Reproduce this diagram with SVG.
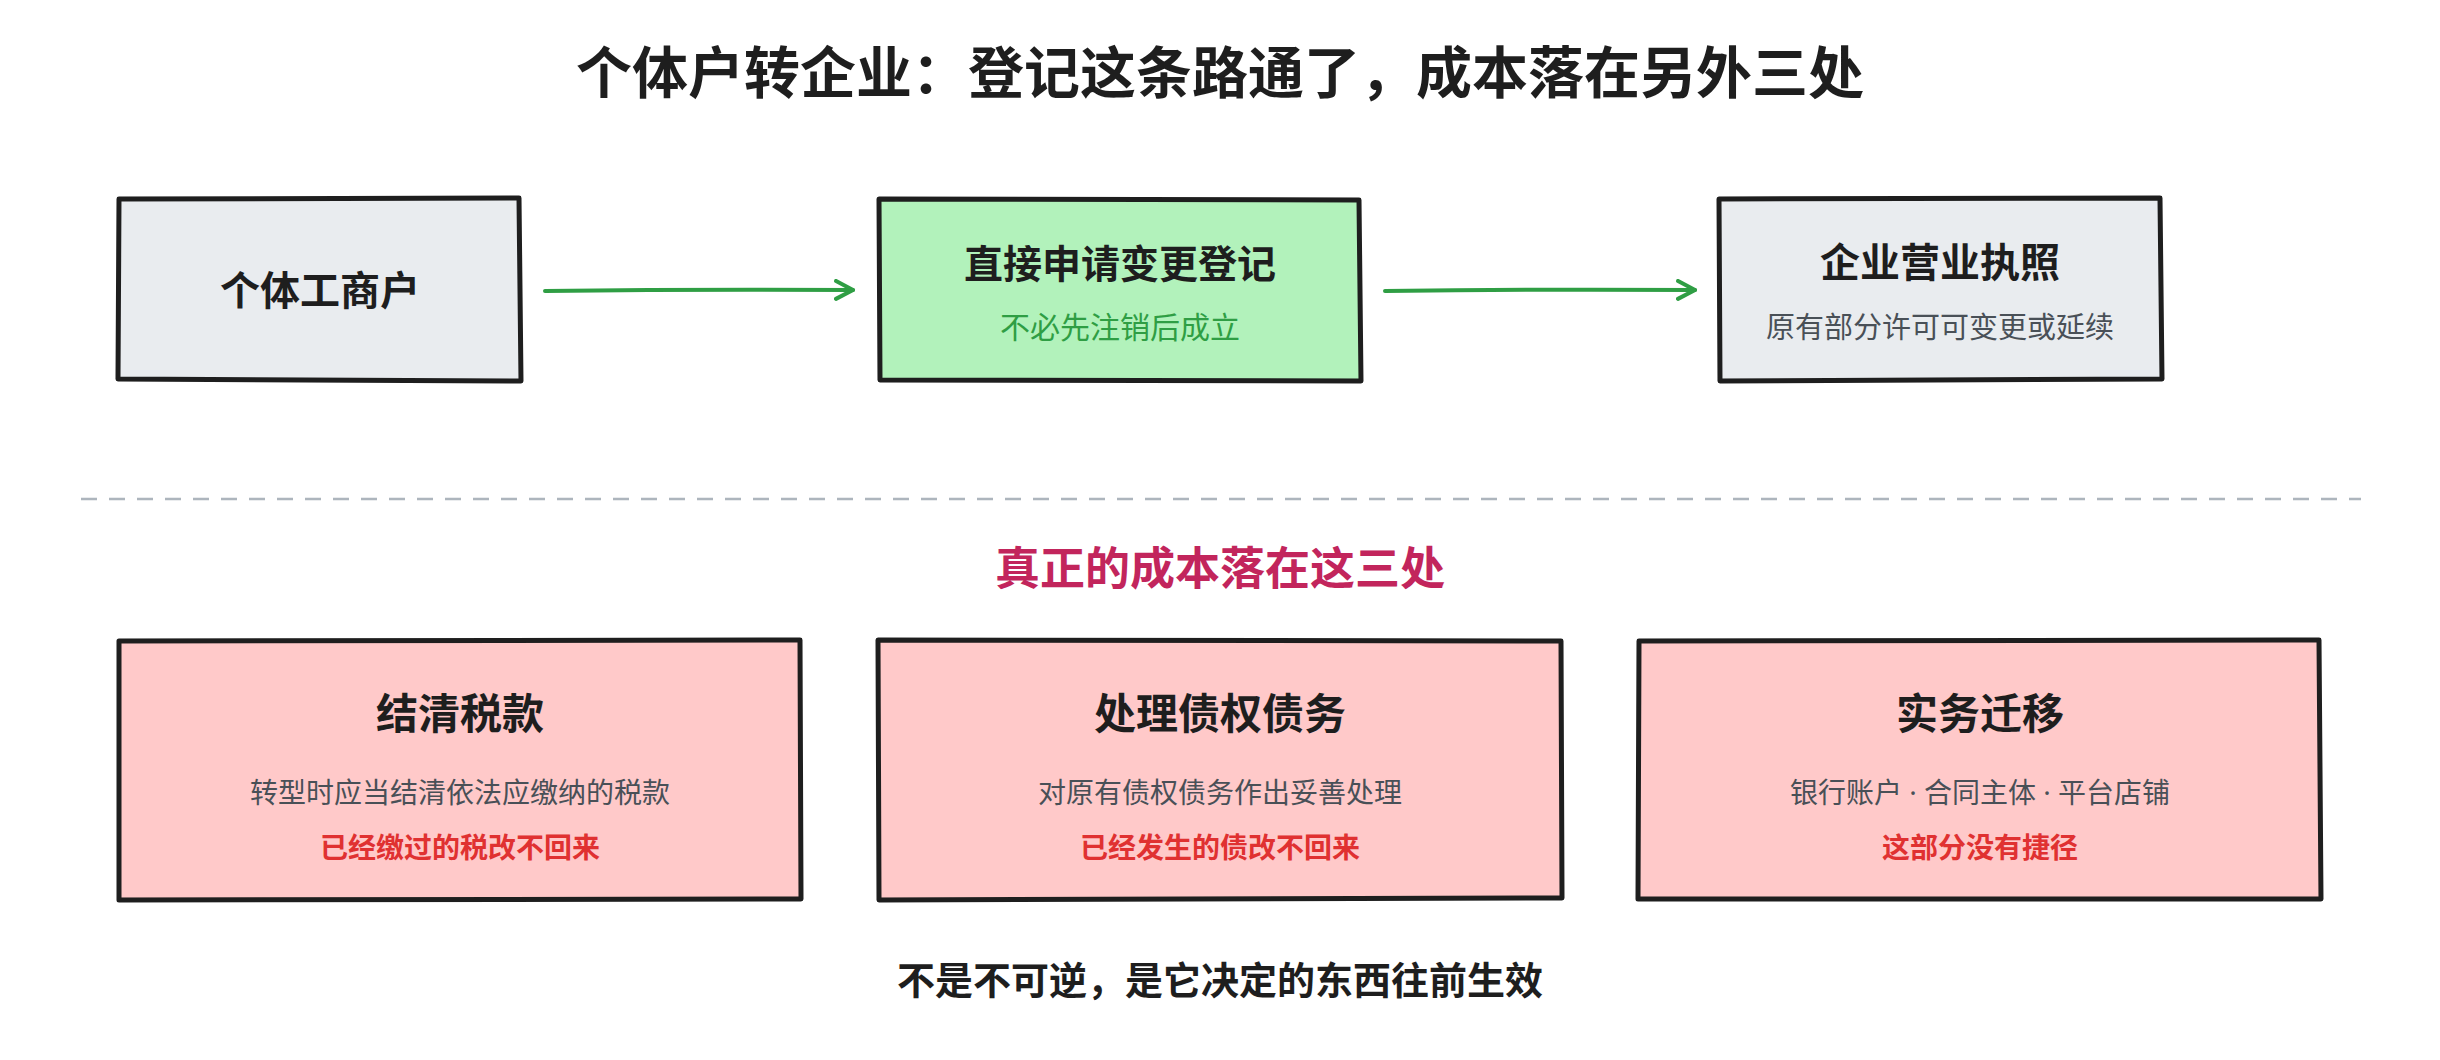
<svg xmlns="http://www.w3.org/2000/svg" width="2440" height="1060" viewBox="0 0 2440 1060">
<defs>
<style>
text{font-family:"Noto Sans CJK SC","Noto Sans",sans-serif;text-anchor:middle}
.h1{font-size:56px;font-weight:700;fill:#1e1e1e}
.t{font-size:40px;font-weight:700;fill:#1e1e1e}
.t2{font-size:39px;font-weight:700;fill:#1e1e1e}
.s{font-size:29px;font-weight:400;fill:#495057}
.sg{font-size:30px;font-weight:400;fill:#2f9e44}
.bt{font-size:42px;font-weight:700;fill:#1e1e1e}
.bs{font-size:28px;font-weight:400;fill:#495057}
.br{font-size:28px;font-weight:700;fill:#e03131}
.sec{font-size:45px;font-weight:700;fill:#c2255c}
.cap{font-size:38px;font-weight:700;fill:#1e1e1e}
.dot{font-family:"Noto Sans","Liberation Sans",sans-serif}
.box{stroke:#1e1e1e;stroke-width:5;stroke-linejoin:round;stroke-linecap:round}
.gray{fill:#e9ecef}.green{fill:#b2f2bb}.pink{fill:#ffc9c9}
.conn{stroke:#2f9e44;stroke-width:4;fill:none;stroke-linecap:round}
</style>
<marker id="arr" viewBox="0 0 22 22" refX="19" refY="11" markerWidth="22" markerHeight="22" orient="auto" markerUnits="userSpaceOnUse">
<path d="M2,2 L19,11 L2,20" fill="none" stroke="#2f9e44" stroke-width="4" stroke-linecap="round" stroke-linejoin="round"/>
</marker>
</defs>
<rect width="2440" height="1060" fill="#ffffff"/>
<text class="h1" x="1220" y="93">个体户转企业：登记这条路通了，成本落在另外三处</text>

<g id="node-geti">
<path class="box gray" d="M119,199 L519,198 L521,381 L118,379 Z"/>
<text class="t" x="320" y="305">个体工商户</text>
</g>
<g id="node-biangeng">
<path class="box green" d="M879,199 L1359,200 L1361,381 L880,380 Z"/>
<text class="t2" x="1120" y="278">直接申请变更登记</text>
<text class="sg" x="1120" y="338">不必先注销后成立</text>
</g>
<g id="node-zhizhao">
<path class="box gray" d="M1719,199 L2160,198 L2162,379 L1720,381 Z"/>
<text class="t" x="1940" y="277">企业营业执照</text>
<text class="s" x="1940" y="338">原有部分许可可变更或延续</text>
</g>

<g id="connectors">
<path class="conn" d="M545,291 Q700,289 853,290" marker-end="url(#arr)"/>
<path class="conn" d="M1385,291 Q1540,289 1695,290" marker-end="url(#arr)"/>
</g>

<line x1="81" y1="499" x2="2361" y2="499" stroke="#adb5bd" stroke-width="2.5" stroke-dasharray="16 12"/>

<text class="sec" x="1220" y="585">真正的成本落在这三处</text>

<g id="node-tax">
<path class="box pink" d="M119,641 L800,640 L801,899 L119,900 Z"/>
<text class="bt" x="460" y="729">结清税款</text>
<text class="bs" x="460" y="803">转型时应当结清依法应缴纳的税款</text>
<text class="br" x="460" y="858">已经缴过的税改不回来</text>
</g>
<g id="node-debt">
<path class="box pink" d="M878,640 L1561,641 L1562,898 L879,900 Z"/>
<text class="bt" x="1220" y="729">处理债权债务</text>
<text class="bs" x="1220" y="803">对原有债权债务作出妥善处理</text>
<text class="br" x="1220" y="858">已经发生的债改不回来</text>
</g>
<g id="node-migrate">
<path class="box pink" d="M1639,641 L2319,640 L2321,899 L1638,899 Z"/>
<text class="bt" x="1980" y="729">实务迁移</text>
<text class="bs" x="1980" y="803">银行账户<tspan class="dot"> · </tspan>合同主体<tspan class="dot"> · </tspan>平台店铺</text>
<text class="br" x="1980" y="858">这部分没有捷径</text>
</g>

<text class="cap" x="1220" y="994">不是不可逆，是它决定的东西往前生效</text>
</svg>
